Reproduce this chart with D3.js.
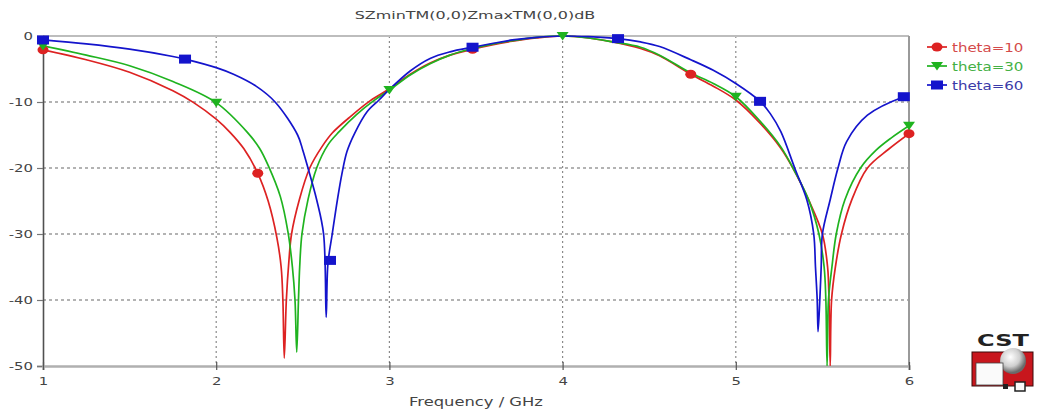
<!DOCTYPE html>
<html><head><meta charset="utf-8">
<script src="https://cdn.jsdelivr.net/npm/d3@7"></script>
<style>
html,body{margin:0;padding:0;background:#fff;}
svg{display:block;}
text{font-family:"DejaVu Sans",Verdana,sans-serif;}
</style></head>
<body>
<svg id="chart" width="1048" height="411"></svg>
<script>
// ---------------- DATA ----------------
const title = "SZminTM(0,0)ZmaxTM(0,0)dB";
const xLabel = "Frequency / GHz";
const xTicks = [1, 2, 3, 4, 5, 6];
const yTicks = [0, -10, -20, -30, -40, -50];
const seriesNames = ["theta=10", "theta=30", "theta=60"];

const freq10 = [1, 1.25, 1.5, 1.75, 1.87, 2.0, 2.08, 2.16, 2.24, 2.30, 2.35, 2.375, 2.385, 2.393, 2.405, 2.42, 2.435, 2.48, 2.54, 2.61, 2.67, 2.78, 2.89, 3.0, 3.12, 3.235, 3.35, 3.48, 3.6, 3.71, 3.85, 4.0, 4.15, 4.29, 4.45, 4.56, 4.74, 4.87, 5.0, 5.14, 5.26, 5.34, 5.42, 5.5, 5.53, 5.538, 5.545, 5.553, 5.575, 5.61, 5.67, 5.76, 5.88, 6.0];
const db10 = [-2.1, -3.6, -5.5, -8.3, -10.1, -12.6, -14.6, -17.1, -20.8, -25.0, -30.5, -35, -40, -48.8, -40, -34, -30, -24.8, -20, -16.8, -14.7, -12.1, -9.8, -8.0, -5.8, -4.1, -2.9, -2.0, -1.3, -0.8, -0.3, 0, -0.3, -0.9, -1.9, -3.0, -5.8, -7.6, -9.7, -13.2, -17, -20.5, -24.8, -30, -35, -40, -50, -40, -35, -30, -24.8, -20, -17.2, -14.8];

const freq30 = [1, 1.25, 1.5, 1.75, 2.0, 2.18, 2.25, 2.30, 2.37, 2.415, 2.44, 2.455, 2.465, 2.475, 2.482, 2.495, 2.53, 2.58, 2.645, 2.71, 2.81, 2.91, 3.0, 3.12, 3.235, 3.35, 3.48, 3.6, 3.71, 3.85, 4.0, 4.15, 4.29, 4.45, 4.56, 4.74, 4.87, 5.0, 5.14, 5.26, 5.34, 5.42, 5.48, 5.51, 5.52, 5.527, 5.535, 5.555, 5.58, 5.63, 5.72, 5.81, 5.9, 6.0];
const db30 = [-1.5, -2.9, -4.5, -6.9, -10.1, -14.6, -17.0, -19.6, -24.3, -29.8, -35, -40, -47.9, -40, -35, -30, -24.8, -20, -16.5, -14.5, -11.9, -9.8, -8.2, -5.9, -4.2, -2.9, -1.9, -1.2, -0.7, -0.2, 0, -0.3, -0.9, -1.7, -2.9, -5.6, -7.2, -9.2, -12.9, -16.8, -20.5, -24.8, -30, -35, -40, -50, -40, -35, -30, -24.8, -20, -17.3, -15.4, -13.6];

const freq60 = [1, 1.25, 1.5, 1.75, 1.82, 2.0, 2.1, 2.23, 2.34, 2.47, 2.50, 2.53, 2.58, 2.62, 2.635, 2.645, 2.67, 2.70, 2.725, 2.755, 2.80, 2.87, 2.94, 3.0, 3.12, 3.235, 3.35, 3.48, 3.6, 3.71, 3.85, 4.0, 4.15, 4.32, 4.45, 4.56, 4.74, 4.87, 5.0, 5.14, 5.2, 5.26, 5.34, 5.41, 5.45, 5.46, 5.47, 5.475, 5.485, 5.493, 5.50, 5.545, 5.59, 5.64, 5.76, 5.97, 6.0];
const db60 = [-0.6, -1.2, -2.0, -3.1, -3.5, -4.8, -5.8, -7.6, -10, -15, -17.3, -20, -24.8, -30, -42.6, -34.5, -30, -24.8, -21, -17.5, -14.7, -11.5, -9.7, -8.1, -5.3, -3.4, -2.4, -1.7, -1.1, -0.6, -0.2, 0, -0.1, -0.4, -0.9, -1.6, -3.6, -5.2, -7.2, -9.9, -11.8, -14.5, -20, -24.8, -30, -35, -40, -44.8, -40, -35, -30, -24.8, -20, -16, -12, -9.2, -9.0];

const markerFreq10 = [1, 2.24, 3.48, 4.74, 6.0];
const markerDb10 = [-2.1, -20.8, -2.0, -5.8, -14.8];
const markerFreq30 = [1, 2, 3, 4, 5, 6];
const markerDb30 = [-1.5, -10.1, -8.2, 0, -9.2, -13.6];
const markerFreq60 = [1, 1.82, 2.657, 3.48, 4.32, 5.14, 5.97];
const markerDb60 = [-0.6, -3.5, -34, -1.7, -0.4, -9.9, -9.2];

// ---------------- CHART ----------------
const colors = ["#dd2222", "#1fb31f", "#1414cc"];
const textColors = ["#d44a4a", "#44b044", "#3a3aa8"];
const svg = d3.select("#chart");
const x = d3.scaleLinear().domain([1, 6]).range([43, 909]);
const y = d3.scaleLinear().domain([-50, 0]).range([366, 36]);

function stretch(sel, k) {
  sel.each(function () {
    const w = this.getComputedTextLength();
    this.setAttribute("textLength", w * k);
    this.setAttribute("lengthAdjust", "spacingAndGlyphs");
  });
}

// grid
const grid = svg.append("g");
grid.selectAll("line.v").data(xTicks.slice(1, -1)).join("line")
  .attr("x1", d => x(d)).attr("x2", d => x(d)).attr("y1", y(0)).attr("y2", y(-50))
  .attr("stroke", "#8a8a8a").attr("stroke-width", 1.2).attr("stroke-dasharray", "2,3");
grid.selectAll("line.h").data(yTicks.slice(1, -1)).join("line")
  .attr("x1", x(1)).attr("x2", x(6)).attr("y1", d => y(d)).attr("y2", d => y(d))
  .attr("stroke", "#9a9a9a").attr("stroke-width", 1.6).attr("stroke-dasharray", "3,3");

// frame: top & right
svg.append("line").attr("x1", x(1)).attr("x2", x(6)).attr("y1", y(0)).attr("y2", y(0))
  .attr("stroke", "#bdbdbd").attr("stroke-width", 2);
svg.append("line").attr("x1", x(6)).attr("x2", x(6)).attr("y1", y(0)).attr("y2", y(-50))
  .attr("stroke", "#9a9a9a").attr("stroke-width", 2);

// axes
const yAxis = svg.append("g").attr("transform", `translate(${x(1)},0)`)
  .call(d3.axisLeft(y).tickValues(yTicks).tickSize(6).tickPadding(4).tickFormat(d => String(d)));
yAxis.select(".domain").attr("stroke", "#505050").attr("stroke-width", 1.6);
yAxis.selectAll(".tick line").attr("stroke", "#777").attr("stroke-width", 1.2);
yAxis.selectAll(".tick text").attr("fill", "#444").attr("font-size", 11).attr("font-family", "DejaVu Sans").call(stretch, 1.35);

const xAxis = svg.append("g").attr("transform", `translate(0,${y(-50)})`)
  .call(d3.axisBottom(x).tickValues(xTicks).tickSize(4).tickPadding(7).tickFormat(d => String(d)));
xAxis.select(".domain").attr("stroke", "#b0b0b0").attr("stroke-width", 2.5);
xAxis.selectAll(".tick line").attr("y1", -4).attr("stroke", "#555").attr("stroke-width", 1.2);
xAxis.selectAll(".tick text").attr("fill", "#444").attr("font-size", 11).attr("font-family", "DejaVu Sans").call(stretch, 1.35);

// clip
svg.append("clipPath").attr("id", "clip").append("rect")
  .attr("x", x(1)).attr("y", y(0) - 1).attr("width", x(6) - x(1)).attr("height", y(-50) - y(0) + 1);

const series = [
  { f: freq10, v: db10, mf: markerFreq10, mv: markerDb10, shape: "circle" },
  { f: freq30, v: db30, mf: markerFreq30, mv: markerDb30, shape: "triangle" },
  { f: freq60, v: db60, mf: markerFreq60, mv: markerDb60, shape: "square" }
];

const line = d3.line().x(d => x(d[0])).y(d => y(d[1])).curve(d3.curveCatmullRom.alpha(0.5));

function drawMarker(g, cx, cy, shape, color) {
  if (shape === "circle") {
    g.append("ellipse").attr("cx", cx).attr("cy", cy).attr("rx", 5.5).attr("ry", 4.5).attr("fill", color);
  } else if (shape === "triangle") {
    g.append("path").attr("d", `M${cx - 6},${cy - 4}L${cx + 6},${cy - 4}L${cx},${cy + 4.5}Z`).attr("fill", color);
  } else {
    g.append("rect").attr("x", cx - 6).attr("y", cy - 4.5).attr("width", 12).attr("height", 9).attr("fill", color);
  }
}

const plot = svg.append("g").attr("clip-path", "url(#clip)");
series.forEach((s, i) => {
  const pts = s.f.map((f, k) => [f, s.v[k]]);
  plot.append("path").datum(pts).attr("d", line).attr("fill", "none")
    .attr("stroke", colors[i]).attr("stroke-width", 1.7).attr("stroke-linejoin", "round");
});
const markers = svg.append("g");
series.forEach((s, i) => {
  s.mf.forEach((f, k) => drawMarker(markers, x(f), y(s.mv[k]), s.shape, colors[i]));
});

// title & labels
svg.append("text").attr("x", 475).attr("y", 19).attr("text-anchor", "middle")
  .attr("font-size", 11).attr("fill", "#444").text(title).call(stretch, 1.45);
svg.append("text").attr("x", 476).attr("y", 406).attr("text-anchor", "middle")
  .attr("font-size", 11.5).attr("fill", "#444").text(xLabel).call(stretch, 1.42);

// legend
const legY = [47, 66, 85];
series.forEach((s, i) => {
  const g = svg.append("g");
  g.append("line").attr("x1", 927).attr("x2", 947).attr("y1", legY[i]).attr("y2", legY[i])
    .attr("stroke", colors[i]).attr("stroke-width", 1.7);
  drawMarker(g, 937, legY[i], s.shape, colors[i]);
  g.append("text").attr("x", 952).attr("y", legY[i] + 4.5).attr("font-size", 12)
    .attr("fill", textColors[i]).text(seriesNames[i]).call(stretch, 1.25);
});

// CST logo
const logo = svg.append("g");
logo.append("text").attr("x", 1003).attr("y", 346).attr("text-anchor", "middle")
  .attr("font-size", 16).attr("font-weight", "bold").attr("fill", "#222").text("CST").call(stretch, 1.5);
const defs = svg.append("defs");
const rg = defs.append("radialGradient").attr("id", "sph").attr("cx", "40%").attr("cy", "35%").attr("r", "60%");
rg.append("stop").attr("offset", "0%").attr("stop-color", "#ffffff");
rg.append("stop").attr("offset", "60%").attr("stop-color", "#cfcfcf");
rg.append("stop").attr("offset", "100%").attr("stop-color", "#6a6a6a");
logo.append("rect").attr("x", 972).attr("y", 352).attr("width", 61).attr("height", 34)
  .attr("fill", "#c8161d").attr("stroke", "#3a0a0a").attr("stroke-width", 1);
logo.append("circle").attr("cx", 1013).attr("cy", 361).attr("r", 13).attr("fill", "url(#sph)");
logo.append("rect").attr("x", 976).attr("y", 363).attr("width", 27).attr("height", 22)
  .attr("fill", "#fafafa").attr("stroke", "#444").attr("stroke-width", 0.8);
logo.append("rect").attr("x", 1015).attr("y", 382).attr("width", 10).attr("height", 9)
  .attr("fill", "#fafafa").attr("stroke", "#222").attr("stroke-width", 1.5);
logo.append("rect").attr("x", 1003).attr("y", 384).attr("width", 5).attr("height", 5).attr("fill", "#222");
</script>
</body></html>
